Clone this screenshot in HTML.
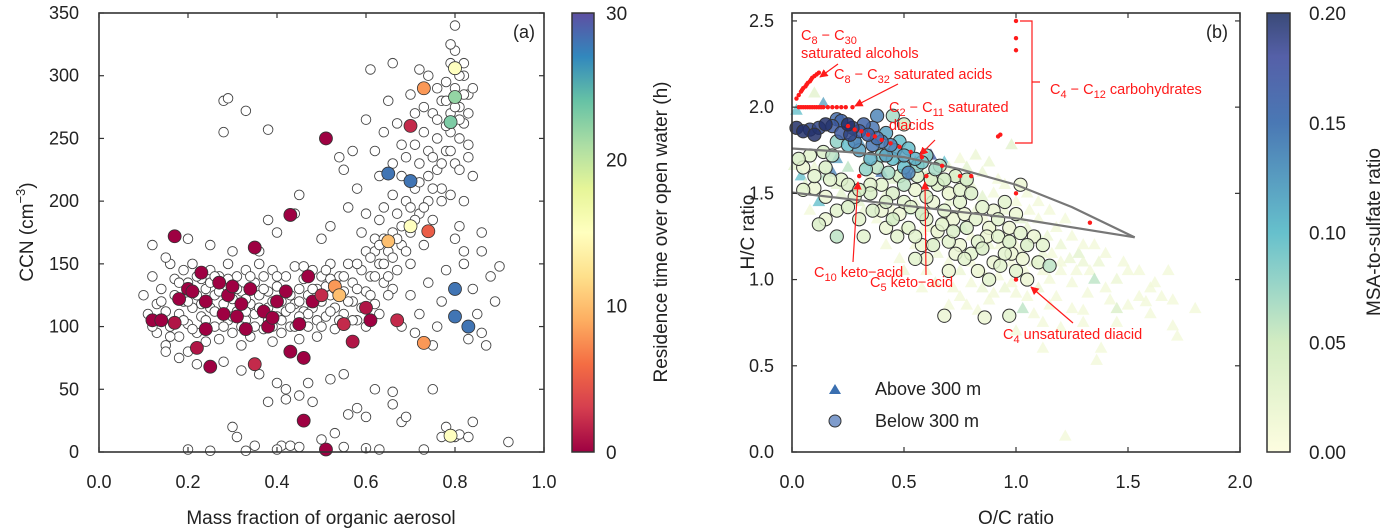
<!DOCTYPE html>
<html><head><meta charset="utf-8"><style>
body{margin:0;background:#fff;}
svg{display:block;font-family:"Liberation Sans",sans-serif;}
</style></head><body>
<svg id="fig" width="1388" height="531" viewBox="0 0 1388 531" xmlns="http://www.w3.org/2000/svg">
<defs>
<linearGradient id="gSpec" x1="0" y1="1" x2="0" y2="0">
<stop offset="0" stop-color="#9e0142"/><stop offset="0.1" stop-color="#d53e4f"/><stop offset="0.2" stop-color="#f46d43"/><stop offset="0.3" stop-color="#fdae61"/><stop offset="0.4" stop-color="#fee08b"/><stop offset="0.5" stop-color="#ffffbf"/><stop offset="0.6" stop-color="#e6f598"/><stop offset="0.7" stop-color="#abdda4"/><stop offset="0.8" stop-color="#66c2a5"/><stop offset="0.9" stop-color="#3288bd"/><stop offset="1" stop-color="#5e4fa2"/>
</linearGradient>
<linearGradient id="gYGB" x1="0" y1="1" x2="0" y2="0">
<stop offset="0" stop-color="#fdfde0"/><stop offset="0.25" stop-color="#d2ecc2"/><stop offset="0.5" stop-color="#66c0cc"/><stop offset="0.75" stop-color="#4a78b4"/><stop offset="0.9" stop-color="#5560a8"/><stop offset="1" stop-color="#3a4a78"/>
</linearGradient>
<marker id="arr" viewBox="0 0 10 10" refX="9" refY="5" markerWidth="7" markerHeight="7" orient="auto-start-reverse"><path d="M0,0 L10,5 L0,10 z" fill="#ff1a1a"/></marker>
</defs>
<g id="pa"></g><g id="pb"></g>
</svg>
<script>
// ---------- Panel (a) data ----------
const hollowAx=[0.10,0.11,0.12,0.13,0.13,0.14,0.15,0.15,0.16,0.16,0.17,0.17,0.18,0.18,0.19,0.19,0.20,0.20,0.20,0.21,0.21,0.22,0.22,0.23,0.23,0.24,0.24,0.25,0.25,0.26,0.26,0.27,0.27,0.28,0.28,0.29,0.29,0.30,0.30,0.31,0.31,0.32,0.32,0.33,0.33,0.34,0.34,0.35,0.35,0.36,0.36,0.37,0.37,0.38,0.38,0.39,0.39,0.40,0.40,0.41,0.41,0.42,0.42,0.43,0.43,0.44,0.44,0.45,0.45,0.46,0.46,0.47,0.47,0.48,0.48,0.49,0.49,0.50,0.50,0.51,0.51,0.52,0.52,0.53,0.53,0.54,0.55,0.55,0.56,0.57,0.57,0.58,0.59,0.60,0.60,0.61,0.62,0.62,0.63,0.63,0.64,0.64,0.65,0.66,0.66,0.67,0.67,0.68,0.68,0.69,0.69,0.70,0.70,0.71,0.71,0.72,0.72,0.73,0.73,0.74,0.74,0.75,0.75,0.76,0.76,0.77,0.77,0.78,0.78,0.79,0.79,0.80,0.80,0.81,0.81,0.82,0.82,0.83,0.83,0.80,0.80,0.79,0.72,0.66,0.70,0.74,0.65,0.61,0.60,0.57,0.55,0.62,0.64,0.67,0.58,0.56,0.52,0.50,0.45,0.44,0.40,0.38,0.36,0.30,0.25,0.20,0.15,0.12,0.28,0.29,0.33,0.28,0.38,0.54,
0.15,0.18,0.22,0.28,0.32,0.36,0.40,0.42,0.45,0.48,0.38,0.42,0.47,0.52,0.55,0.58,0.56,0.60,0.62,0.66,0.66,0.68,0.69,0.75,0.78,0.77,0.80,0.81,0.83,0.84,0.92,0.30,0.31,0.35,0.41,0.43,0.45,0.50,0.53,0.55,0.60,0.63,0.73,0.20,0.25,0.33,0.40,
0.82,0.84,0.85,0.86,0.87,0.88,0.89,0.90,0.83,0.86,0.76,0.77,0.74,0.78,0.82,0.84,0.81,0.86,0.72,0.70,0.68,0.66,0.75,0.71,
0.12,0.14,0.16,0.18,0.19,0.21,0.22,0.23,0.24,0.25,0.26,0.27,0.28,0.29,0.30,0.31,0.32,0.33,0.34,0.35,0.36,0.37,0.38,0.39,0.40,0.41,0.42,0.43,0.44,0.45,0.46,0.47,0.48,0.49,0.50,0.51,0.52,0.53,0.54,0.55,0.56,0.57,0.58,0.59,0.60,0.61,0.62,0.63,0.64,0.65,0.20,0.26,0.33,0.39,0.45,0.52,0.58,0.62,0.65,0.68,0.70,0.72,0.74,0.76,0.78,0.80,0.81,0.82,0.83,0.79,0.77,0.75,0.73,0.71,0.69,0.67,0.66,0.64,0.63,0.61,0.84,0.82,0.81,0.79,0.78,0.76,0.71,0.68,0.66,0.63,0.60,0.59,0.75,0.73,0.77,0.79,0.81,0.83,0.82,0.80];
const hollowAy=[125,110,140,95,118,130,85,112,150,100,125,138,92,110,145,120,80,102,135,115,150,125,95,108,138,88,130,115,145,100,125,90,140,118,132,105,150,95,122,140,112,128,85,105,145,118,92,135,110,125,150,98,140,115,128,88,145,108,132,120,95,140,112,125,100,148,118,130,90,112,138,125,100,145,115,130,92,120,140,108,132,125,150,115,98,140,128,110,150,120,135,105,145,128,160,140,170,118,150,185,135,195,160,175,205,145,190,165,220,200,235,175,150,245,210,190,230,165,255,200,240,270,185,225,250,280,210,240,295,255,270,230,290,250,275,262,300,245,285,320,340,325,305,310,285,300,280,305,265,240,225,240,255,262,210,195,180,170,205,190,175,185,160,160,165,170,155,165,280,282,272,255,257,235,
80,75,70,72,65,62,55,50,45,40,40,42,55,58,62,35,30,28,50,48,38,24,28,50,20,12,12,14,12,24,8,20,12,5,5,5,4,10,15,4,3,2,2,2,1,1,2,
150,130,110,95,85,140,120,148,90,160,100,120,135,145,200,220,180,175,110,125,100,130,85,95,
100,120,92,135,105,98,140,118,105,135,112,128,100,138,108,130,100,122,140,100,115,130,105,120,140,105,128,115,100,120,148,110,130,105,100,145,112,130,105,140,120,105,130,115,100,125,140,110,150,125,120,140,112,100,108,138,150,160,140,180,195,215,220,265,260,275,300,285,270,240,230,210,195,185,160,170,155,170,165,155,290,310,265,310,280,290,270,245,230,220,190,175,235,275,200,205,225,235,160,170];
const colAx=[0.12,0.14,0.17,0.18,0.17,0.20,0.21,0.22,0.23,0.24,0.25,0.24,0.27,0.28,0.29,0.30,0.31,0.32,0.33,0.34,0.35,0.35,0.37,0.38,0.39,0.40,0.42,0.43,0.43,0.45,0.46,0.46,0.47,0.48,0.50,0.51,0.51,0.53,0.54,0.55,0.57,0.60,0.61,0.65,0.65,0.67,0.70,0.70,0.70,0.73,0.74,0.73,0.79,0.80,0.80,0.80,0.80,0.83,0.79];
const colAy=[105,105,172,122,103,130,128,83,143,98,68,120,135,110,125,132,108,118,98,130,163,70,112,100,107,120,128,189,80,102,75,25,140,120,125,250,2,132,125,102,88,115,105,222,168,105,216,260,180,290,176,87,263,283,306,130,108,100,13];
const colAv=[0,0,0,0,1,0,0,1,0,0,0,0,0,0,0,0,0,0,0,0,0,2,0,0,0,0,0,0,0,0,0,0,0,0,2,0,0,8,10,2,1,1,0,28,10,2,28,2,15,8,5,8,23,22,15,28,28,28,15];
const aXTicks=[0.0,0.2,0.4,0.6,0.8,1.0];
const aYTicks=[0,50,100,150,200,250,300,350];
const aCbTicks=[0,10,20,30];
// ---------- Panel (b) data ----------
const circBx=[0.02,0.05,0.08,0.1,0.12,0.15,0.18,0.2,0.22,0.25,0.27,0.3,0.32,0.34,0.36,0.38,0.4,0.42,0.44,0.46,0.48,0.5,0.52,0.55,0.58,0.6,0.45,0.4,0.35,0.3,0.28,0.25,0.2,0.18,0.14,0.08,0.03,0.33,0.38,0.43,0.48,0.52,0.56,0.62,0.3,0.25,0.22,0.28,0.1,0.05,0.17,0.35,0.4,0.45,0.5,0.55,0.6,0.65,0.7,0.75,0.8,0.85,0.9,0.95,1.0,0.68,0.72,0.78,0.82,0.88,0.92,0.97,1.02,1.05,1.08,0.6,0.65,0.7,0.75,0.8,0.85,0.9,0.95,1.0,1.05,1.1,1.15,1.12,0.58,0.52,0.55,0.6,0.47,0.42,0.36,0.32,0.2,0.15,0.12,0.2,0.7,0.88,0.68,0.86,0.97,0.98,0.73,0.78,0.66,0.5,0.62,1.02,0.45,0.38,0.05,
0.35,0.42,0.48,0.53,0.58,0.63,0.67,0.72,0.77,0.83,0.87,0.92,0.97,1.03,0.93,0.83,0.77,0.73,0.63,0.55,0.45,0.4,0.3,0.25,0.15,0.1,0.15,0.5,0.68,0.75,0.22,0.26,0.36,0.42,0.5,0.56,0.64];
const circBy=[1.88,1.86,1.87,1.84,1.88,1.9,1.89,1.93,1.92,1.9,1.88,1.86,1.9,1.84,1.88,1.82,1.8,1.85,1.78,1.75,1.8,1.72,1.76,1.7,1.68,1.72,1.7,1.72,1.7,1.75,1.8,1.78,1.8,1.72,1.74,1.72,1.7,1.64,1.65,1.62,1.6,1.62,1.6,1.58,1.52,1.55,1.58,1.48,1.53,1.52,1.58,1.5,1.55,1.5,1.45,1.52,1.48,1.55,1.5,1.45,1.5,1.42,1.4,1.45,1.38,1.4,1.35,1.3,1.35,1.3,1.25,1.3,1.27,1.2,1.25,1.35,1.28,1.22,1.2,1.15,1.18,1.1,1.15,1.05,1.0,1.1,1.08,1.2,1.2,1.3,1.12,1.12,1.25,1.3,1.4,1.25,1.4,1.35,1.32,1.25,1.05,1.0,0.79,0.78,0.79,1.15,1.6,1.58,1.66,1.9,1.58,1.55,1.95,1.95,1.65,
1.55,1.45,1.38,1.42,1.38,1.45,1.32,1.28,1.38,1.22,1.25,1.35,1.22,1.12,1.08,1.05,1.12,1.15,1.2,1.25,1.35,1.4,1.35,1.42,1.48,1.6,1.65,1.55,1.58,1.52,1.85,1.84,1.78,1.72,1.65,1.66,1.64];
const circBv=[.2,.2,.19,.2,.19,.2,.18,.16,.17,.2,.19,.18,.17,.18,.15,.16,.15,.12,.14,.12,.1,.12,.1,.11,.09,.08,.1,.09,.11,.12,.14,.1,.08,.06,.04,.03,.04,.08,.06,.07,.05,.14,.04,.04,.05,.04,.03,.03,.02,.03,.03,.04,.03,.04,.03,.02,.04,.03,.02,.03,.04,.03,.02,.03,.02,.03,.02,.04,.03,.02,.03,.02,.03,.04,.02,.03,.02,.03,.02,.03,.04,.02,.03,.03,.02,.03,.06,.03,.02,.03,.03,.02,.03,.02,.04,.03,.03,.02,.04,.06,.02,.03,.02,.02,.03,.02,.04,.05,.06,.05,.03,.02,.07,.14,.02,
.03,.04,.02,.03,.05,.02,.03,.04,.02,.03,.02,.03,.04,.02,.03,.02,.03,.02,.04,.03,.05,.02,.03,.04,.02,.03,.04,.06,.05,.03,.18,.19,.15,.12,.1,.08,.07];
const triBx=[0.01,0.04,0.02,0.1,0.14,0.06,0.12,0.18,0.22,0.28,0.3,0.33,0.4,0.45,0.48,0.52,0.55,0.6,0.58,0.65,0.7,0.72,0.75,0.8,0.85,0.9,0.95,1.0,1.02,1.05,1.1,1.12,1.18,1.2,1.25,1.28,1.3,1.33,1.35,1.37,1.4,1.45,1.5,1.55,1.6,1.68,1.7,1.72,1.8,1.22,1.38,1.36,1.2,1.3,1.45,1.45,1.25,1.15,1.1,1.0,0.95,0.9,0.85,0.8,0.75,1.03,1.08,1.12,1.18,0.7,0.65,0.6,0.55,0.5,0.45,0.4,0.35,0.25,0.2,0.3,0.62,0.68,0.78,0.85,0.92,0.88,0.98,1.05,0.5,0.42,0.48,0.58,0.64,0.72,0.78,0.83,1.15,1.2,1.25,1.32,1.4,1.48,1.55,1.62,1.5,1.6,1.7,1.12,1.0,
0.55,0.6,0.62,0.68,0.7,0.74,0.76,0.8,0.82,0.86,0.88,0.9,0.93,0.96,0.98,1.0,1.02,1.04,1.06,1.08,1.1,1.12,1.14,1.16,1.2,1.22,1.24,1.27,1.3,1.35,0.85,0.92,0.98,1.05,0.75,0.8,0.65,0.58,0.52,0.42,0.38,0.32,0.2,0.15,0.1,0.08,0.6,0.7,0.75,0.82,0.95,1.1,1.15,0.88,0.7,1.3,1.42,1.58,1.65];
const triBy=[1.66,1.6,1.98,2.08,2.02,1.55,1.45,1.62,1.5,1.55,1.45,1.68,1.62,1.58,1.7,1.6,1.68,1.7,1.62,1.55,1.52,1.6,1.55,1.55,1.48,1.5,1.4,1.45,1.35,1.3,1.25,1.15,1.3,1.2,1.25,1.15,1.1,1.05,1.0,1.1,0.95,1.0,1.05,0.9,0.95,1.05,0.73,0.67,0.83,0.09,0.6,0.53,0.72,0.75,0.75,0.83,0.83,0.85,0.95,0.92,0.95,0.92,0.95,0.98,0.9,0.83,0.8,0.75,0.9,1.1,1.15,1.05,1.2,1.3,1.4,1.45,1.6,1.65,1.7,1.8,1.72,1.68,1.65,1.62,1.58,1.68,1.78,1.5,1.05,1.2,1.12,0.95,0.98,0.95,0.85,0.82,1.0,1.05,0.98,0.92,1.15,1.1,1.05,0.98,0.85,0.8,0.88,0.6,0.7,
1.45,1.4,1.3,1.35,1.45,1.4,1.3,1.25,1.4,1.35,1.2,1.3,1.2,1.25,1.1,1.2,1.15,1.05,1.4,1.1,1.35,1.05,1.25,1.15,1.1,1.35,1.12,1.05,1.2,1.2,1.05,1.02,0.98,0.9,1.05,1.1,1.25,1.28,1.4,1.5,1.35,1.4,1.55,1.6,1.65,1.4,1.6,1.65,1.7,1.72,1.55,1.45,1.4,0.88,0.85,0.82,0.88,0.87,0.9];
const triBv=[.03,.1,.1,.03,.12,.03,.1,.14,.03,.02,.03,.05,.15,.03,.1,.17,.13,.08,.02,.03,.02,.05,.01,.02,.03,.01,.02,.01,.03,.02,.04,.02,.01,.02,.01,.03,.02,.01,.06,.02,.01,.02,.01,.01,.01,.01,.01,.01,.01,.01,.01,.01,.01,.01,.01,.04,.01,.01,.02,.01,.02,.01,.02,.01,.01,.06,.01,.01,.01,.01,.02,.01,.01,.02,.01,.01,.02,.06,.12,.13,.18,.1,.03,.02,.01,.02,.03,.01,.02,.01,.01,.01,.02,.01,.01,.01,.01,.01,.01,.01,.01,.01,.01,.01,.01,.01,.01,.01,.01,
.02,.01,.02,.01,.02,.01,.06,.01,.02,.01,.02,.01,.01,.02,.01,.01,.02,.01,.01,.02,.01,.01,.02,.01,.01,.01,.02,.01,.01,.01,.02,.01,.01,.01,.02,.01,.02,.01,.06,.02,.01,.02,.03,.06,.02,.01,.05,.02,.01,.02,.01,.01,.01,.01,.01,.01,.01,.01,.01];
const alcOC=[0.02,0.03,0.04,0.045,0.05,0.06,0.065,0.07,0.08,0.085,0.09,0.1,0.11,0.12];
const alcHC=[2.05,2.07,2.09,2.1,2.11,2.12,2.13,2.14,2.15,2.16,2.17,2.18,2.19,2.2];
const acidOC=[0.03,0.04,0.05,0.06,0.07,0.08,0.09,0.1,0.11,0.12,0.13,0.14,0.16,0.18,0.2,0.22,0.24,0.27];
const acidHC=[2.0,2.0,2.0,2.0,2.0,2.0,2.0,2.0,2.0,2.0,2.0,2.0,2.0,2.0,2.0,2.0,2.0,2.0];
const diaOC=[0.25,0.28,0.31,0.34,0.37,0.4,0.44,0.48,0.53,0.58,0.67,0.75];
const diaHC=[1.89,1.87,1.86,1.84,1.83,1.81,1.79,1.77,1.74,1.71,1.66,1.6];
const otherOC=[0.3,0.6,0.8,1.0,1.0,1.0,0.92,0.93,1.0,1.33,1.0];
const otherHC=[1.6,1.6,1.6,2.5,2.4,2.33,1.83,1.84,1.5,1.33,1.0];
const vkUpOC=[0,0.25,0.5,0.75,1.0,1.25,1.53];
const vkUpHC=[1.76,1.74,1.71,1.64,1.55,1.42,1.245];
const vkLoOC=[0,0.5,1.0,1.53];
const vkLoHC=[1.505,1.43,1.355,1.245];
const bXTicks=[0.0,0.5,1.0,1.5,2.0];
const bYTicks=[0.0,0.5,1.0,1.5,2.0,2.5];
const bCbTicks=[0.00,0.05,0.10,0.15,0.20];

const NS="http://www.w3.org/2000/svg";
function mk(parent,tag,attrs,text){const e=document.createElementNS(NS,tag);for(const k in attrs)e.setAttribute(k,attrs[k]);if(text!==undefined)e.textContent=text;parent.appendChild(e);return e;}
function lerpHex(stops,t){t=Math.max(0,Math.min(1,t));for(let i=1;i<stops.length;i++){if(t<=stops[i][0]){const a=stops[i-1],b=stops[i];const f=(t-a[0])/(b[0]-a[0]);const ca=parseInt(a[1].slice(1),16),cb=parseInt(b[1].slice(1),16);const r=Math.round(((ca>>16)&255)*(1-f)+((cb>>16)&255)*f),g=Math.round(((ca>>8)&255)*(1-f)+((cb>>8)&255)*f),bl=Math.round((ca&255)*(1-f)+(cb&255)*f);return `rgb(${r},${g},${bl})`;}}return stops[stops.length-1][1];}
const spec=[[0,"#9e0142"],[0.1,"#d53e4f"],[0.2,"#f46d43"],[0.3,"#fdae61"],[0.4,"#fee08b"],[0.5,"#ffffbf"],[0.6,"#e6f598"],[0.7,"#abdda4"],[0.8,"#66c2a5"],[0.9,"#3288bd"],[1,"#5e4fa2"]];
const ygb=[[0,"#fdfde0"],[0.25,"#d2ecc2"],[0.5,"#66c0cc"],[0.75,"#4a78b4"],[0.9,"#3d5aa0"],[1,"#22306a"]];

// ===== Panel A =====
const A={l:99,r:544,t:13,b:452};
const ax=v=>A.l+(v-0)/(1-0)*(A.r-A.l);
const ay=v=>A.b-(v/350)*(A.b-A.t);
const pa=document.getElementById('pa');
for(let i=0;i<hollowAx.length;i++){
  const c=mk(pa,'circle',{cx:ax(hollowAx[i]),cy:ay(hollowAy[i]),r:4.8,fill:'#fff',stroke:'#444','stroke-width':0.9});
  
  
}
for(let i=0;i<colAx.length;i++){
  const c=mk(pa,'circle',{cx:ax(colAx[i]),cy:ay(colAy[i]),r:6.5,fill:lerpHex(spec,colAv[i]/30),stroke:'#333','stroke-width':0.8});
  
  
}
const fA=mk(pa,'rect',{x:A.l,y:A.t,width:A.r-A.l,height:A.b-A.t,fill:'none',stroke:'#333','stroke-width':1.6});


aXTicks.forEach(v=>{const x=ax(v);mk(pa,'line',{x1:x,y1:A.b,x2:x,y2:A.b-5,stroke:'#333','stroke-width':1.2});mk(pa,'line',{x1:x,y1:A.t,x2:x,y2:A.t+5,stroke:'#333','stroke-width':1.2});
 const t=mk(pa,'text',{x:x,y:488,'text-anchor':'middle','font-size':18,fill:'#222'},v.toFixed(1));});
aYTicks.forEach(v=>{const y=ay(v);mk(pa,'line',{x1:A.l,y1:y,x2:A.l+5,y2:y,stroke:'#333','stroke-width':1.2});mk(pa,'line',{x1:A.r,y1:y,x2:A.r-5,y2:y,stroke:'#333','stroke-width':1.2});
 const t=mk(pa,'text',{x:79,y:y+6,'text-anchor':'end','font-size':18,fill:'#222'},String(v));});
let e=mk(pa,'text',{x:A.r-9,y:38,'text-anchor':'end','font-size':18,fill:'#222'},'(a)');
e=mk(pa,'text',{x:321,y:524,'text-anchor':'middle','font-size':19,fill:'#222'},'Mass fraction of organic aerosol');
e=mk(pa,'text',{transform:'translate(33,232) rotate(-90)','text-anchor':'middle','font-size':19,fill:'#222'});e.innerHTML='CCN (cm<tspan dy="-8" font-size="13">−3</tspan><tspan dy="8">)</tspan>';
// colorbar a
const CA={l:572,r:594,t:13,b:452};
e=mk(pa,'rect',{x:CA.l,y:CA.t,width:CA.r-CA.l,height:CA.b-CA.t,fill:'url(#gSpec)',stroke:'#333','stroke-width':1.5});
aCbTicks.forEach(v=>{const y=CA.b-v/30*(CA.b-CA.t);const t=mk(pa,'text',{x:606,y:y+7,'font-size':19,fill:'#222'},String(v));});
e=mk(pa,'text',{transform:'translate(667,232) rotate(-90)','text-anchor':'middle','font-size':19,fill:'#222'},'Residence time over open water (h)');

// ===== Panel B =====
const B={l:792,r:1240,t:13,b:452};
const bx=v=>B.l+v/2*(B.r-B.l);
const by=v=>B.b-v/2.546*(B.b-B.t);
const pb=document.getElementById('pb');
for(let i=0;i<triBx.length;i++){
  const x=bx(triBx[i]),y=by(triBy[i]),s=7;
  const p=mk(pb,'polygon',{points:`${x},${y-s} ${x-s*0.9},${y+s*0.6} ${x+s*0.9},${y+s*0.6}`,fill:lerpHex(ygb,Math.max(0.06,triBv[i]/0.2)),'fill-opacity':0.8,stroke:'none'});
  
  
}
const ord=circBv.map((v,i)=>i).sort((a,b)=>circBv[a]-circBv[b]);
ord.forEach(i=>{
  const c=mk(pb,'circle',{cx:bx(circBx[i]),cy:by(circBy[i]),r:6.6,fill:lerpHex(ygb,circBv[i]/0.2),'fill-opacity':0.85,stroke:'#333','stroke-width':1});
  
  
});
function pl(xs,ys,name){const pts=xs.map((x,i)=>bx(x)+','+by(ys[i])).join(' ');const l=mk(pb,'polyline',{points:pts,fill:'none',stroke:'#777','stroke-width':2.2});}
pl(vkUpOC,vkUpHC,'vk-upper-line');pl(vkLoOC,vkLoHC,'vk-lower-line');
[[alcOC,alcHC],[acidOC,acidHC],[diaOC,diaHC],[otherOC,otherHC]].forEach(([xs,ys])=>{xs.forEach((x,i)=>{const d=mk(pb,'circle',{cx:bx(x),cy:by(ys[i]),r:2.2,fill:'#ff1a1a'});});});
e=mk(pb,'rect',{x:B.l,y:B.t,width:B.r-B.l,height:B.b-B.t,fill:'none',stroke:'#333','stroke-width':1.6});
bXTicks.forEach(v=>{const x=bx(v);mk(pb,'line',{x1:x,y1:B.b,x2:x,y2:B.b-5,stroke:'#333','stroke-width':1.2});mk(pb,'line',{x1:x,y1:B.t,x2:x,y2:B.t+5,stroke:'#333','stroke-width':1.2});
 const t=mk(pb,'text',{x:x,y:488,'text-anchor':'middle','font-size':18,fill:'#222'},v.toFixed(1));});
bYTicks.forEach(v=>{const y=by(v);mk(pb,'line',{x1:B.l,y1:y,x2:B.l+5,y2:y,stroke:'#333','stroke-width':1.2});mk(pb,'line',{x1:B.r,y1:y,x2:B.r-5,y2:y,stroke:'#333','stroke-width':1.2});
 const t=mk(pb,'text',{x:774,y:y+6,'text-anchor':'end','font-size':18,fill:'#222'},v.toFixed(1));});
e=mk(pb,'text',{x:B.r-12,y:38,'text-anchor':'end','font-size':18,fill:'#222'},'(b)');
e=mk(pb,'text',{x:1016,y:524,'text-anchor':'middle','font-size':19,fill:'#222'},'O/C ratio');
e=mk(pb,'text',{transform:'translate(754,232) rotate(-90)','text-anchor':'middle','font-size':19,fill:'#222'},'H/C ratio');
// annotations
const R='#ff1a1a';
function ann(x,y,html,name){const t=mk(pb,'text',{x:x,y:y,'font-size':14.5,fill:R});t.innerHTML=html;}
const sub=s=>`<tspan dy="4" font-size="11">${s}</tspan><tspan dy="-4"> </tspan>`;
ann(801,40,`C${sub('8')}− C${sub('30')}`,'label-alcohols-1');
ann(801,58,'saturated alcohols','label-alcohols-2');
ann(834,79,`C${sub('8')}− C${sub('32')}saturated acids`,'label-acids');
ann(889,112,`C${sub('2')}− C${sub('11')}saturated`,'label-diacids-1');
ann(889,130,'diacids','label-diacids-2');
ann(1050,94,`C${sub('4')}− C${sub('12')}carbohydrates`,'label-carbohydrates');
ann(814,277,`C${sub('10')}keto−acid`,'label-c10-keto');
ann(870,287,`C${sub('5')}keto−acid`,'label-c5-keto');
ann(1003,339,`C${sub('4')}unsaturated diacid`,'label-c4-unsat');
function arrow(x1,y1,x2,y2,name){const l=mk(pb,'line',{x1,y1,x2,y2,stroke:R,'stroke-width':1.2,'marker-end':'url(#arr)'});}
arrow(838,64,820,77,'arrow-alcohols');arrow(898,84,855,106,'arrow-acids');arrow(935,140,920,155,'arrow-diacids');
arrow(853,262,858,182,'arrow-c10');arrow(926,275,925,182,'arrow-c5');arrow(1073,323,1031,287,'arrow-c4');
e=mk(pb,'path',{d:'M1020,21 H1032 V143 H1015 M1032,82 H1040',fill:'none',stroke:R,'stroke-width':1.2});
// legend
e=mk(pb,'polygon',{points:'835,384 829,394 841,394',fill:'#3a6fb0'});
e=mk(pb,'text',{x:875,y:395,'font-size':18,fill:'#222'},'Above 300 m');
e=mk(pb,'circle',{cx:835,cy:421,r:6,fill:'#7f9ccc',stroke:'#333','stroke-width':1});
e=mk(pb,'text',{x:875,y:427,'font-size':18,fill:'#222'},'Below 300 m');
// colorbar b
const CB={l:1267,r:1290,t:13,b:452};
e=mk(pb,'rect',{x:CB.l,y:CB.t,width:CB.r-CB.l,height:CB.b-CB.t,fill:'url(#gYGB)',stroke:'#333','stroke-width':1.5});
bCbTicks.forEach(v=>{const y=CB.b-v/0.2*(CB.b-CB.t);const t=mk(pb,'text',{x:1309,y:y+7,'font-size':19,fill:'#222'},v.toFixed(2));});
e=mk(pb,'text',{transform:'translate(1380,232) rotate(-90)','text-anchor':'middle','font-size':19,fill:'#222'},'MSA-to-sulfate ratio');
</script>
</body></html>
